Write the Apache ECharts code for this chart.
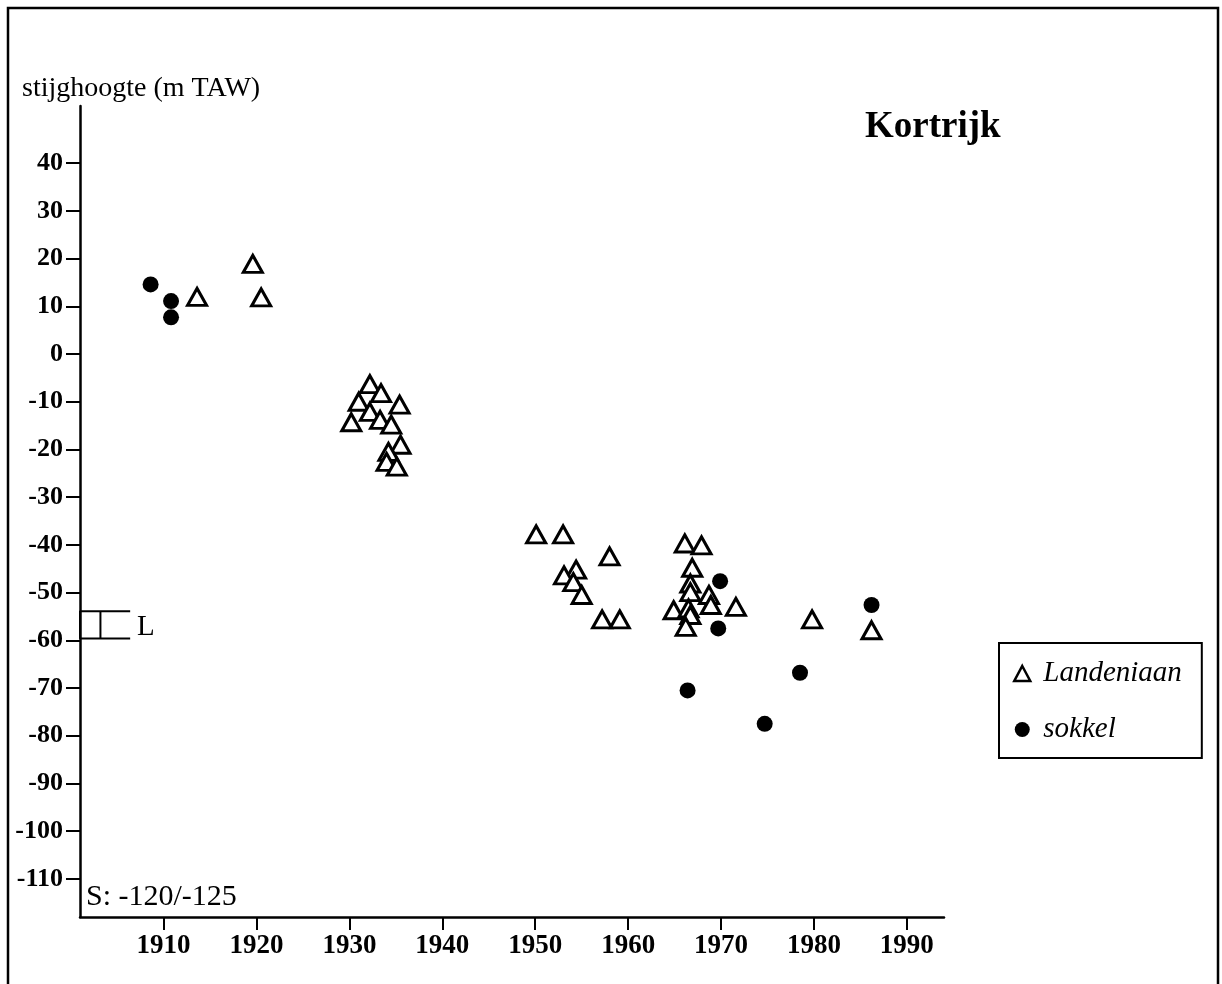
<!DOCTYPE html>
<html>
<head>
<meta charset="utf-8">
<title>Kortrijk stijghoogte</title>
<script src="https://cdn.jsdelivr.net/npm/echarts@6/dist/echarts.min.js"></script>
<style>
    html, body { margin: 0; padding: 0; background: #fff; }
    #chart-box { width: 1222px; height: 984px; }
</style>
</head>
<body>
<div id="chart-box"></div>
<script>
// Landeniaan (triangles): year, stijghoogte (m TAW)
var landenYears = [1913.6, 1919.6, 1920.5,
    1932.2, 1933.4, 1931.0, 1935.4, 1932.2, 1933.3, 1930.2, 1934.5, 1935.5, 1934.2, 1934.0, 1935.1,
    1950.1, 1953.0, 1958.0, 1954.4, 1953.1, 1954.1, 1955.0, 1957.2, 1959.1,
    1966.1, 1967.9, 1966.9, 1966.7, 1966.7, 1968.7, 1968.9, 1971.6, 1964.9, 1966.5, 1966.7, 1966.2,
    1979.8, 1986.2];
var landenLevels = [12.0, 18.9, 11.9,
    -6.3, -8.2, -10.0, -10.6, -12.1, -13.8, -14.3, -14.8, -19.0, -20.5, -22.6, -23.6,
    -37.8, -37.8, -42.4, -45.2, -46.4, -47.8, -50.5, -55.6, -55.6,
    -39.7, -40.1, -44.8, -48.1, -49.9, -50.5, -52.6, -53.0, -53.7, -53.3, -54.7, -57.2,
    -55.6, -57.9];

// sokkel (dots)
var sokkelYears = [1908.6, 1910.8, 1910.8, 1969.9, 1969.7, 1966.4, 1978.5, 1974.7, 1986.2];
var sokkelLevels = [14.6, 11.1, 7.7, -47.6, -57.5, -70.5, -66.8, -77.5, -52.6];

// L bracket (range of the Landeniaan) next to the axis
var bracketYears = [1901.0, 1903.2, 1906.4];
var bracketLevels = [-53.9, -59.6];

var yearTicks = [1910, 1920, 1930, 1940, 1950, 1960, 1970, 1980, 1990];
var levelTicks = [40, 30, 20, 10, 0, -10, -20, -30, -40, -50, -60, -70, -80, -90, -100, -110];

function pairs(xs, ys) {
    var out = [];
    for (var i = 0; i < xs.length; i++) {
        out.push([xs[i], ys[i]]);
    }
    return out;
}

var serifFont = '"Liberation Serif", "Times New Roman", serif';

var myChart = echarts.init(document.getElementById('chart-box'));
var option = {
    animation: false,
    backgroundColor: '#fff',
    title: [{
        text: 'Kortrijk',
        left: 860,
        top: 104,
        textStyle: {
            color: '#000',
            fontFamily: serifFont,
            fontWeight: 'bold',
            fontSize: 37
        }
    }, {
        text: 'stijghoogte (m TAW)',
        left: 17,
        top: 70,
        textStyle: {
            color: '#000',
            fontFamily: serifFont,
            fontWeight: 'normal',
            fontSize: 28
        }
    }],
    legend: {
        orient: 'vertical',
        left: 999,
        top: 643,
        borderColor: '#000',
        borderWidth: 2,
        padding: [16, 20, 14, 14],
        itemGap: 27,
        itemWidth: 16,
        itemHeight: 15,
        selectedMode: false,
        textStyle: {
            color: '#000',
            fontFamily: serifFont,
            fontStyle: 'italic',
            fontSize: 29,
            padding: [0, 0, 0, 8]
        },
        data: [{
            name: 'Landeniaan',
            itemStyle: { borderWidth: 2.5 }
        }, {
            name: 'sokkel'
        }]
    },
    grid: {
        left: 80,
        right: 278,
        top: 106,
        bottom: 67
    },
    xAxis: {
        type: 'value',
        min: 1901,
        max: 1994,
        splitLine: { show: false },
        axisLine: {
            onZero: false,
            lineStyle: { color: '#000', width: 2.5 }
        },
        axisTick: {
            customValues: yearTicks,
            length: 13,
            lineStyle: { color: '#000', width: 2 }
        },
        axisLabel: {
            customValues: yearTicks,
            formatter: function (v) { return String(v); },
            margin: 16,
            color: '#000',
            fontFamily: serifFont,
            fontWeight: 'bold',
            fontSize: 27
        }
    },
    yAxis: {
        type: 'value',
        min: -118,
        max: 52,
        splitLine: { show: false },
        axisLine: {
            onZero: false,
            lineStyle: { color: '#000', width: 2.5 }
        },
        axisTick: {
            customValues: levelTicks,
            length: 14,
            lineStyle: { color: '#000', width: 2 }
        },
        axisLabel: {
            customValues: levelTicks,
            margin: 17,
            color: '#000',
            fontFamily: serifFont,
            fontWeight: 'bold',
            fontSize: 26
        }
    },
    graphic: [{
        type: 'rect',
        shape: { x: 8, y: 8, width: 1210, height: 990 },
        style: { fill: 'none', stroke: '#000', lineWidth: 2.5 },
        silent: true
    }, {
        type: 'text',
        left: 137,
        top: 613,
        style: {
            text: 'L',
            fill: '#000',
            font: '29px ' + serifFont
        }
    }, {
        type: 'text',
        left: 86,
        top: 882,
        style: {
            text: 'S: -120/-125',
            fill: '#000',
            font: '30px ' + serifFont
        }
    }],
    series: [{
        name: 'Landeniaan',
        type: 'scatter',
        symbol: 'triangle',
        symbolSize: [19, 17],
        z: 3,
        itemStyle: {
            color: '#fff',
            borderColor: '#000',
            borderWidth: 3,
            opacity: 1
        },
        data: pairs(landenYears, landenLevels)
    }, {
        name: 'sokkel',
        type: 'scatter',
        symbol: 'circle',
        symbolSize: 16,
        z: 4,
        itemStyle: {
            color: '#000',
            opacity: 1
        },
        data: pairs(sokkelYears, sokkelLevels)
    }, {
        name: 'L-range',
        type: 'line',
        symbol: 'none',
        silent: true,
        lineStyle: { color: '#000', width: 2 },
        data: [
            [bracketYears[2], bracketLevels[0]],
            [bracketYears[0], bracketLevels[0]],
            [bracketYears[0], bracketLevels[1]],
            [bracketYears[2], bracketLevels[1]]
        ]
    }, {
        name: 'L-mid',
        type: 'line',
        symbol: 'none',
        silent: true,
        lineStyle: { color: '#000', width: 2 },
        data: [
            [bracketYears[1], bracketLevels[0]],
            [bracketYears[1], bracketLevels[1]]
        ]
    }]
};
myChart.setOption(option);
</script>
</body>
</html>
